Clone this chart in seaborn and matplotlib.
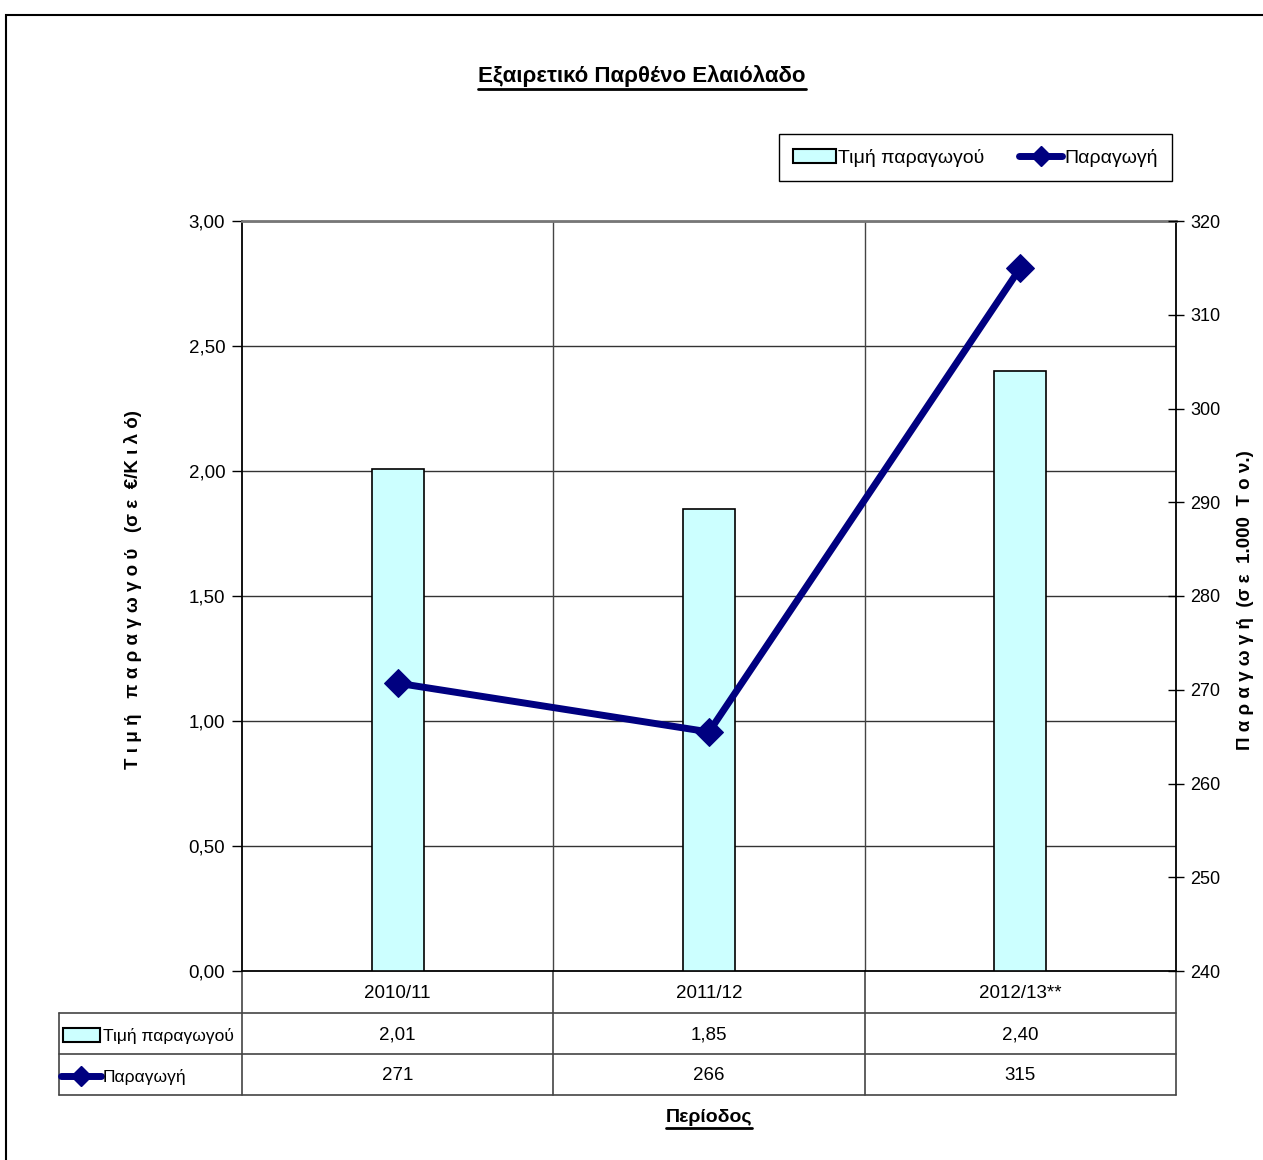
import matplotlib
matplotlib.use("Agg")
import matplotlib.pyplot as plt
import seaborn as sns
import pandas as pd
from matplotlib.lines import Line2D
from matplotlib.patches import Patch, Rectangle

# data
periods = ["2010/11", "2011/12", "2012/13**"]
price = [2.01, 1.85, 2.40]          # Τιμή παραγωγού (€/κιλό)
production = [270.7, 265.5, 315.0]  # Παραγωγή (1.000 τόνοι)
price_labels = ["2,01", "1,85", "2,40"]
prod_labels = ["271", "266", "315"]
left_ticks = [0, 0.5, 1.0, 1.5, 2.0, 2.5, 3.0]
right_ticks = [240, 250, 260, 270, 280, 290, 300, 310, 320]

sns.set_theme(style="white")
plt.rcParams["font.family"] = ["Liberation Sans", "DejaVu Sans"]
for k in ["text.color", "axes.labelcolor", "xtick.color", "ytick.color"]:
    plt.rcParams[k] = "black"

CYAN = "#CCFFFF"
NAVY = "#000080"

df = pd.DataFrame({"period": periods, "price": price, "production": production})

fig = plt.figure(figsize=(12.63, 11.6), dpi=100)
L, R, T, B = 242, 1176, 221, 971
ax = fig.add_axes([L / 1263, 1 - B / 1160, (R - L) / 1263, (B - T) / 1160])

sns.barplot(data=df, x="period", y="price", ax=ax, color=CYAN, width=0.167,
            edgecolor="black", linewidth=1.2, saturation=1, zorder=3)
ax.set_xlim(-0.5, 2.5)
ax.set_ylim(0, 3)
ax.set_yticks(left_ticks)
ax.set_yticklabels([f"{v:.2f}".replace(".", ",") for v in left_ticks], fontsize=13.5)
ax.tick_params(axis="y", direction="out", length=7, width=1, color="black", left=True, pad=5)
for y in left_ticks[1:]:
    ax.axhline(y, color="#333333", lw=1, zorder=1)
for x in [0.5, 1.5]:
    ax.axvline(x, color="#444444", lw=1, zorder=1)
ax.set_xticks([])
ax.set_xlabel("")
ax.set_ylabel("Τ ι μ ή   π α ρ α γ ω γ ο ύ   (σ ε  €/Κ ι λ ό)", fontsize=13.5,
              fontweight="bold")
ax.yaxis.set_label_coords((142 - L) / (R - L), (B - 590) / (B - T))
for s in ["left", "bottom", "right"]:
    ax.spines[s].set_color("black")
    ax.spines[s].set_linewidth(1.3)
ax.spines["top"].set_color("#777777")
ax.spines["top"].set_linewidth(2)

ax2 = ax.twinx()
sns.lineplot(data=df, x="period", y="production", ax=ax2, sort=False, color=NAVY,
             lw=5, marker="D", markersize=14, markeredgecolor=NAVY, zorder=5)
ax2.set_xlim(-0.5, 2.5)
ax2.set_ylim(240, 320)
ax2.set_yticks(right_ticks)
ax2.set_yticklabels([str(v) for v in right_ticks], fontsize=13)
ax2.tick_params(axis="y", direction="inout", length=12, width=1, color="black", right=True, pad=4)
ax2.set_ylabel("Π α ρ α γ ω γ ή  (σ ε  1.000  Τ ο ν.)", fontsize=13.5, fontweight="bold",
               rotation=90)
ax2.yaxis.set_label_coords((1237 - L) / (R - L), (B - 600) / (B - T))
ax2.set_xlabel("")
ax2.set_xticks([])
for s in ax2.spines.values():
    s.set_visible(False)

# data table under the plot
def fy(py):
    return (B - py) / (B - T)

def fx(px):
    return (px - L) / (R - L)

tab_kw = dict(transform=ax.transAxes, clip_on=False, color="#444444", lw=1.2)
for xe in [0, 1 / 3, 2 / 3, 1]:
    ax.add_line(Line2D([xe, xe], [0, fy(1095)], **tab_kw))
for ye in [1013, 1054, 1095]:
    ax.add_line(Line2D([fx(59), 1], [fy(ye), fy(ye)], **tab_kw))
ax.add_line(Line2D([fx(59), fx(59)], [fy(1013), fy(1095)], **tab_kw))

for i, (p, pl, ql) in enumerate(zip(periods, price_labels, prod_labels)):
    cx = (i + 0.5) / 3
    ax.text(cx, fy(993), p, transform=ax.transAxes, ha="center", va="center", fontsize=13.5)
    ax.text(cx, fy(1035), pl, transform=ax.transAxes, ha="center", va="center", fontsize=13.5)
    ax.text(cx, fy(1076), ql, transform=ax.transAxes, ha="center", va="center", fontsize=13.5)

ax.add_patch(Rectangle((fx(63), fy(1042)), fx(100) - fx(63), fy(1028) - fy(1042),
                       transform=ax.transAxes, clip_on=False, facecolor=CYAN,
                       edgecolor="black", lw=1.5))
ax.add_line(Line2D([fx(61), fx(101)], [fy(1076), fy(1076)], transform=ax.transAxes,
                   clip_on=False, color=NAVY, lw=5))
ax.add_line(Line2D([fx(81)], [fy(1076)], transform=ax.transAxes, clip_on=False,
                   marker="D", markersize=10, color=NAVY))
ax.text(fx(103), fy(1036), "Τιμή παραγωγού", transform=ax.transAxes, ha="left",
        va="center", fontsize=12.5)
ax.text(fx(103), fy(1077), "Παραγωγή", transform=ax.transAxes, ha="left",
        va="center", fontsize=12.5)

# title and x label (underlined)
title = fig.text(642 / 1263, 1 - 76 / 1160, "Εξαιρετικό Παρθένο Ελαιόλαδο",
                 ha="center", va="center", fontsize=16, fontweight="bold")
xlab = fig.text(709 / 1263, 1 - 1117 / 1160, "Περίοδος", ha="center", va="center",
                fontsize=14, fontweight="bold")

# legend
handles = [Patch(facecolor=CYAN, edgecolor="black", lw=1.5, label="Τιμή παραγωγού"),
           Line2D([], [], color=NAVY, lw=5, marker="D", markersize=10, label="Παραγωγή")]
leg = fig.legend(handles=handles, loc="upper right", bbox_to_anchor=(1172 / 1263, 1 - 134 / 1160),
                 ncol=2, fontsize=14, frameon=True, fancybox=False, edgecolor="black",
                 handlelength=2.2, handletextpad=0.1, columnspacing=1.8,
                 borderpad=0.75, borderaxespad=0, framealpha=1)
leg.get_frame().set_linewidth(1)

# outer chart border
fig.add_artist(Rectangle((6 / 1263, -0.1), 1.2, 1.1 - 15 / 1160, transform=fig.transFigure,
                         fill=False, edgecolor="black", lw=1.5))

fig.canvas.draw()
inv = fig.transFigure.inverted()
for t in [title, xlab]:
    bb = t.get_window_extent()
    (x0, y0), (x1, y1) = inv.transform([(bb.x0, bb.y0), (bb.x1, bb.y0)])
    fig.add_artist(Line2D([x0, x1], [y0 - 0.002, y0 - 0.002], transform=fig.transFigure,
                          color="black", lw=2))

fig.savefig("out.png", dpi=100)
